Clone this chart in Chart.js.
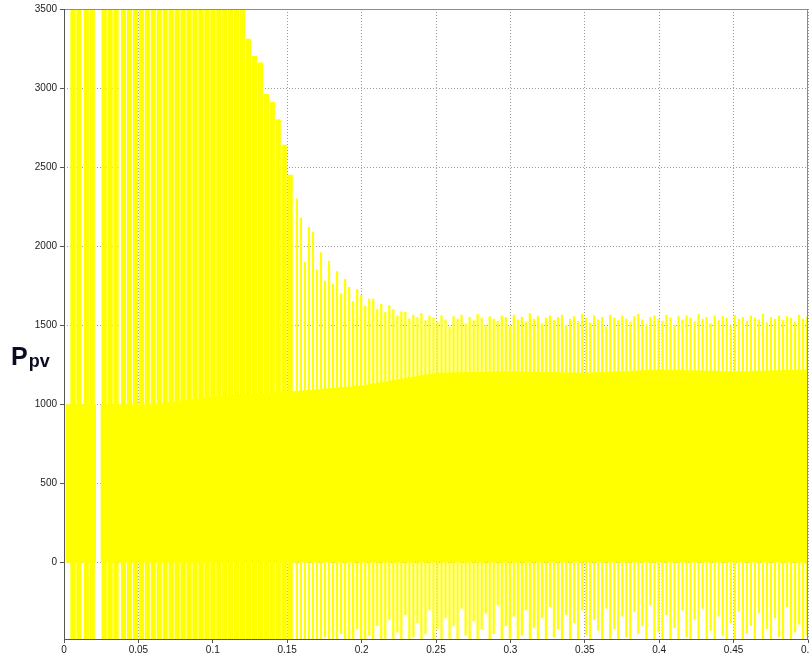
<!DOCTYPE html>
<html>
<head>
<meta charset="utf-8">
<title>Ppv</title>
<script src="https://cdn.jsdelivr.net/npm/chart.js@4.4.0/dist/chart.umd.min.js"></script>
<style>
  html, body { margin: 0; padding: 0; background: #fff; overflow: hidden; }
  #wrap { position: relative; width: 822px; height: 655px; }
  #ppvLabel {
    position: absolute; left: 11px; top: 342px;
    font-family: 'Liberation Sans', Arial, sans-serif; font-weight: bold;
    font-size: 25px; color: #0b0b24;
  }
  #ppvLabel sub { font-size: 18px; vertical-align: baseline; position: relative; top: 2px; margin-left: 1px; }
</style>
</head>
<body>
<div id="wrap">
  <canvas id="ppvChart" width="822" height="655"></canvas>
  <div id="ppvLabel">P<sub>pv</sub></div>
</div>
<script>
// start-up cycles (t < 0.155 s): swing far beyond the plotted range
const earlyTimes = [0.006, 0.010, 0.015, 0.019, 0.027, 0.031, 0.035, 0.040, 0.044, 0.048,
  0.052, 0.056, 0.060, 0.064, 0.068, 0.072, 0.076, 0.080, 0.084, 0.088,
  0.092, 0.096, 0.100, 0.104, 0.108, 0.112, 0.116, 0.120, 0.124, 0.128,
  0.132, 0.136, 0.140, 0.144, 0.148, 0.152];
const earlyPeaks = [3900, 4200, 3800, 4100, 3950, 4300, 3850, 4000, 4150, 3900,
  4050, 3800, 4200, 3950, 3900, 4100, 3850, 3980, 3900, 4000,
  3800, 3870, 3750, 3820, 3700, 3760, 3650, 3520, 3310, 3200,
  3160, 2960, 2910, 2800, 2640, 2450];
const earlyTroughs = [-700, -650, -620, -680, -600, -650, -700, -620, -660, -640,
  -600, -680, -650, -620, -700, -640, -610, -660, -630, -690,
  -600, -650, -620, -670, -640, -600, -660, -620, -650, -600,
  -630, -580, -610, -560, -590, -570];

// settling and steady-state cycles
const lateStart = 0.1565;
const lateStep = 0.0027;
const latePeaks = [2300, 2180, 1900, 2120, 2090, 1850, 1960, 1780, 1905, 1760,
  1840, 1700, 1790, 1740, 1650, 1727, 1690, 1620, 1665, 1665,
  1600, 1633, 1580, 1625, 1600, 1560, 1585, 1582, 1540, 1565,
  1550, 1575, 1530, 1560,
  1545, 1520, 1560, 1535, 1490, 1555, 1540, 1565, 1510, 1550,
  1530, 1570, 1545, 1500, 1555, 1540, 1525, 1560, 1550, 1495,
  1565, 1535, 1550, 1520, 1575, 1540, 1555, 1510, 1545, 1560,
  1530, 1550, 1565, 1500, 1540, 1555, 1525, 1570, 1545, 1515,
  1560, 1535, 1550, 1490, 1565, 1545, 1530, 1560, 1540, 1520,
  1555, 1570, 1535, 1505, 1550, 1560, 1540, 1525, 1565, 1545,
  1500, 1555, 1535, 1560, 1545, 1520, 1570, 1540, 1550, 1510,
  1560, 1530, 1555, 1545, 1495, 1565, 1540, 1550, 1525, 1560,
  1545, 1535, 1570, 1515, 1550, 1540, 1560, 1530, 1555, 1545,
  1520, 1565, 1540, 1550];
const lateTroughs = [-600, -540, -580, -520, -600, -500, -560, -470, -590, -520,
  -540, -450, -580, -490, -530, -420, -560, -500, -460, -540,
  -400, -520, -480, -360, -550, -440, -500, -330, -520, -470,
  -380, -540, -450, -300, -510, -420, -560, -350, -480, -400,
  -530, -290, -460, -510, -370, -550, -420, -320, -500, -450,
  -270, -540, -400, -480, -340, -520, -460, -300, -560, -410,
  -490, -350, -530, -280, -470, -420, -550, -330, -500, -380,
  -540, -300, -460, -510, -360, -430, -560, -290, -480, -420,
  -520, -340, -470, -550, -310, -450, -400, -530, -270, -490,
  -440, -560, -330, -500, -410, -540, -300, -470, -520, -360,
  -480, -290, -550, -430, -510, -340, -460, -530, -380, -500,
  -310, -540, -450, -400, -560, -320, -490, -420, -530, -350,
  -470, -510, -280, -540, -440, -390, -520, -460];

// solid core of the waveform (fills from 0 up to these values)
const bandTimes = [0.001, 0.0215, 0.023, 0.0245, 0.06, 0.1, 0.15, 0.2, 0.25, 0.3, 0.35, 0.4, 0.45, 0.5];
const bandTops = [1000, 1000, null, 1000, 1000, 1050, 1080, 1120, 1200, 1210, 1200, 1220, 1210, 1220];

const xTickStep = 0.05;
const yTickValues = [0, 500, 1000, 1500, 2000, 2500, 3000, 3500];

const yellow = '#ffff00';

const earlyBars = earlyTimes.map((t, i) => ({ x: t, y: [earlyTroughs[i], earlyPeaks[i]] }));
const lateBars = latePeaks.map((p, i) => ({ x: lateStart + i * lateStep, y: [lateTroughs[i], p] }));
const bandPoints = bandTimes.map((t, i) => ({ x: t, y: bandTops[i] }));

// axis frame drawn over the data, like the original plot box
const framePlugin = {
    id: 'frame',
    afterDatasetsDraw(chart) {
        const { ctx, chartArea: a } = chart;
        ctx.save();
        ctx.lineWidth = 1;
        ctx.strokeStyle = '#8c8c8c';
        ctx.beginPath();
        ctx.moveTo(a.left, a.top + 0.5);
        ctx.lineTo(a.right, a.top + 0.5);
        ctx.moveTo(a.right - 0.5, a.top);
        ctx.lineTo(a.right - 0.5, a.bottom);
        ctx.stroke();
        ctx.strokeStyle = '#555';
        ctx.beginPath();
        ctx.moveTo(a.left + 0.5, a.top);
        ctx.lineTo(a.left + 0.5, a.bottom);
        ctx.moveTo(a.left, a.bottom - 0.5);
        ctx.lineTo(a.right, a.bottom - 0.5);
        ctx.stroke();
        ctx.restore();
    }
};

const tickFont = { family: "'Liberation Sans', Arial, sans-serif", size: 10 };

const ppvChart = new Chart(document.getElementById('ppvChart'), {
    type: 'bar',
    data: {
        datasets: [
            {
                type: 'line',
                label: 'core',
                data: bandPoints,
                fill: 'origin',
                backgroundColor: yellow,
                borderWidth: 0,
                pointRadius: 0,
                spanGaps: false,
                order: 3
            },
            {
                label: 'start-up',
                data: earlyBars,
                backgroundColor: yellow,
                barThickness: 4.5,
                grouped: false,
                order: 1
            },
            {
                label: 'steady',
                data: lateBars,
                backgroundColor: yellow,
                barThickness: 1.6,
                grouped: false,
                order: 2
            }
        ]
    },
    options: {
        responsive: false,
        animation: false,
        layout: { padding: { top: 8, right: 14, left: 0, bottom: 0 } },
        plugins: {
            legend: { display: false },
            tooltip: { enabled: false }
        },
        scales: {
            x: {
                type: 'linear',
                min: 0,
                max: 0.5,
                offset: false,
                grid: { offset: false, color: '#9a9a9a', tickLength: 3, tickColor: '#555' },
                border: { display: false, dash: [1, 2] },
                ticks: {
                    stepSize: xTickStep,
                    padding: 1,
                    maxRotation: 0,
                    autoSkip: false,
                    color: '#1a1a1a',
                    font: tickFont,
                    callback: v => String(Math.round(v * 100) / 100)
                },
                afterFit: s => { s.height = 15; }
            },
            y: {
                min: -490,
                max: 3500,
                grid: { color: '#9a9a9a', tickLength: 4, tickColor: '#555' },
                border: { display: false, dash: [1, 2] },
                ticks: {
                    padding: 3,
                    color: '#1a1a1a',
                    font: tickFont,
                    callback: v => String(v)
                },
                afterBuildTicks: s => { s.ticks = yTickValues.map(v => ({ value: v })); },
                afterFit: s => { s.width = 64; }
            }
        }
    },
    plugins: [framePlugin]
});
</script>
</body>
</html>
